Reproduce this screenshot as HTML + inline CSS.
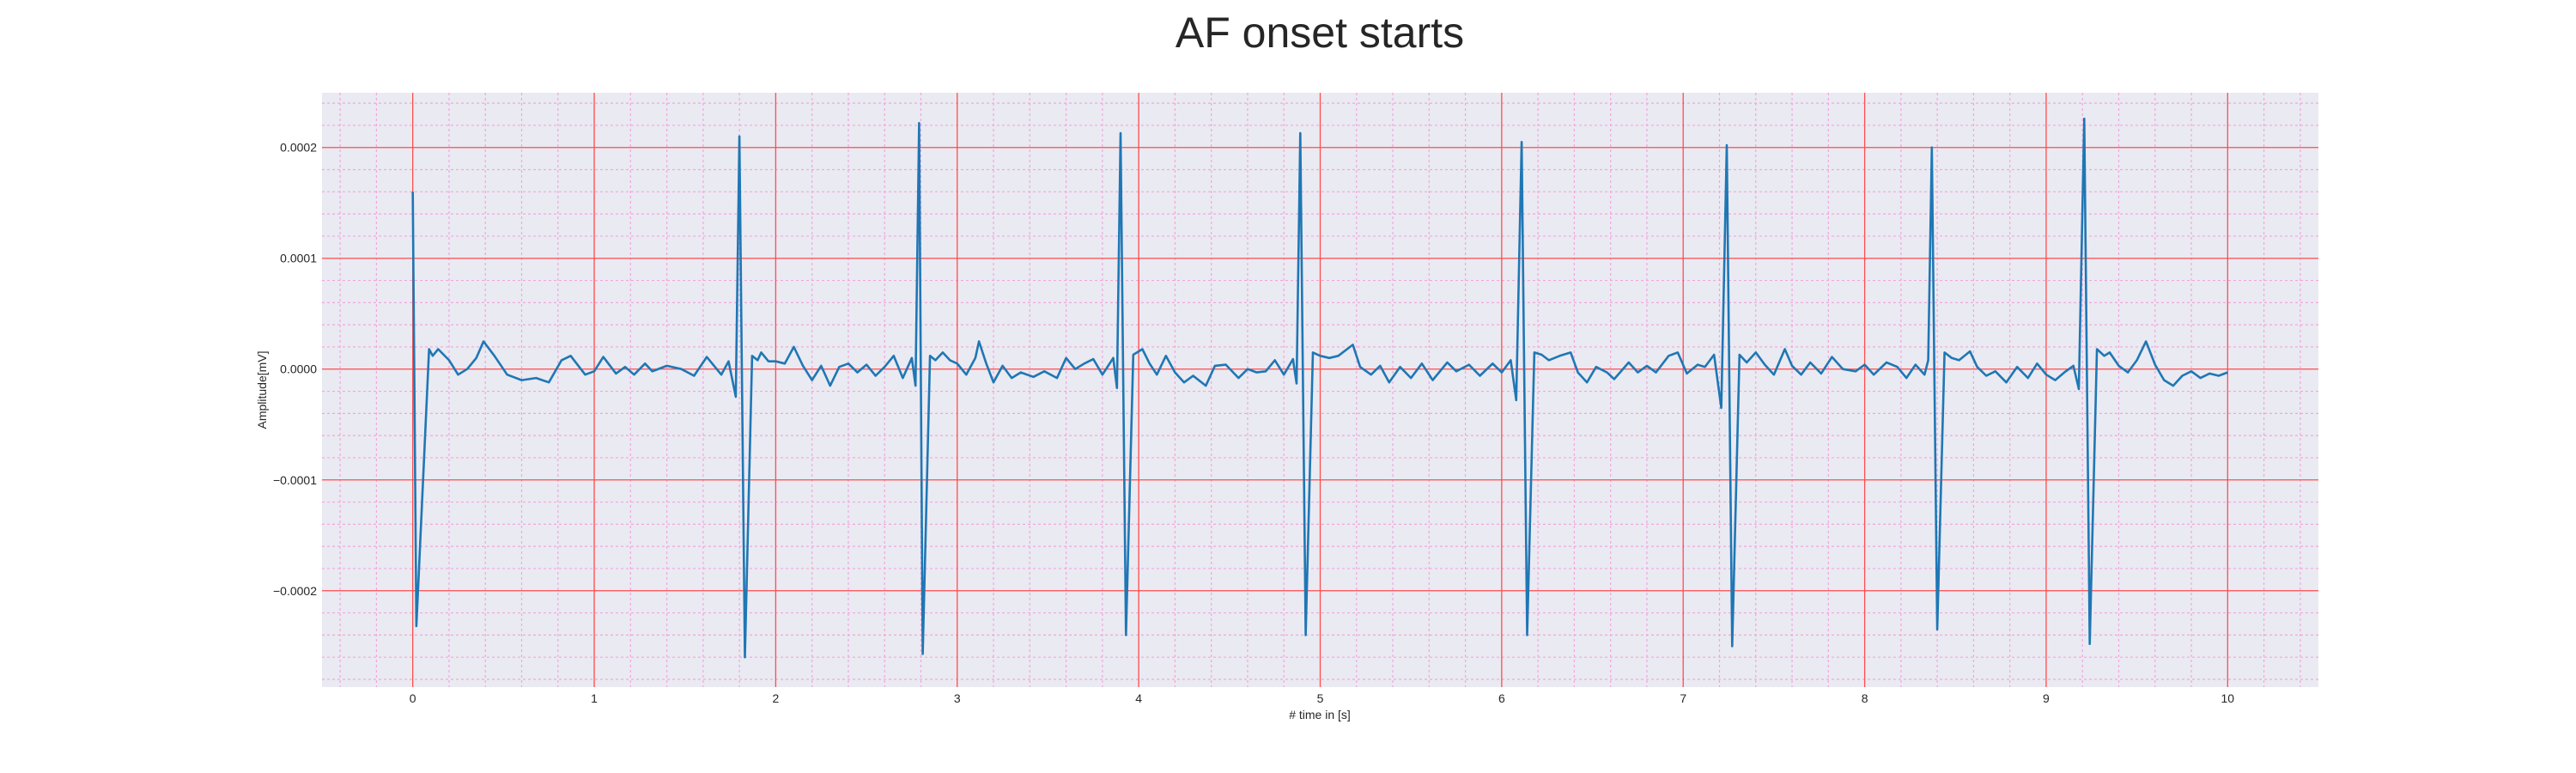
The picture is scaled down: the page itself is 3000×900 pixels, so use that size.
<!DOCTYPE html>
<html><head><meta charset="utf-8"><style>
html,body{margin:0;padding:0;background:#fff;width:3000px;height:900px;overflow:hidden}
text{font-family:"Liberation Sans",sans-serif;fill:#262626}
</style></head><body>
<svg id="chart" width="3000" height="900" xmlns="http://www.w3.org/2000/svg">
<text x="1537" y="55" font-size="50" text-anchor="middle">AF onset starts</text>
<rect x="375" y="108" width="2325" height="692" fill="#eaeaf2"/>
<g id="minor-grid"></g>
<g id="major-grid"></g>
<g id="series"></g>
<g id="x-ticks"></g>
<g id="y-ticks"></g>
<text x="1537" y="837" font-size="14" text-anchor="middle"># time in [s]</text>
<text transform="translate(310,454) rotate(-90)" font-size="14" text-anchor="middle">Amplitude[mV]</text>
</svg>
<script>
const xTicks=[0,1,2,3,4,5,6,7,8,9,10];
const yTicks=[-0.0002,-0.0001,0,0.0001,0.0002];
const yTickLabels=["−0.0002","−0.0001","0.0000","0.0001","0.0002"];
const times=[0,0.02,0.09,0.11,0.14,0.2,0.25,0.3,0.35,0.39,0.45,0.52,0.6,0.68,0.75,0.82,0.87,0.95,1.0,1.05,1.12,1.17,1.22,1.28,1.32,1.4,1.48,1.55,1.62,1.7,1.74,1.78,1.80,1.83,1.87,1.9,1.92,1.96,2.0,2.05,2.1,2.15,2.2,2.25,2.3,2.35,2.4,2.45,2.5,2.55,2.6,2.65,2.7,2.75,2.77,2.79,2.81,2.85,2.88,2.92,2.96,3.0,3.05,3.1,3.12,3.16,3.2,3.25,3.3,3.35,3.42,3.48,3.55,3.6,3.65,3.7,3.75,3.8,3.86,3.88,3.90,3.93,3.97,4.02,4.06,4.1,4.15,4.2,4.25,4.3,4.37,4.42,4.48,4.55,4.6,4.65,4.7,4.75,4.8,4.85,4.87,4.89,4.92,4.96,5.0,5.05,5.1,5.18,5.22,5.28,5.33,5.38,5.44,5.5,5.56,5.62,5.7,5.75,5.82,5.88,5.95,6.0,6.05,6.08,6.11,6.14,6.18,6.22,6.26,6.32,6.38,6.42,6.47,6.52,6.58,6.62,6.7,6.75,6.8,6.85,6.92,6.97,7.02,7.08,7.12,7.17,7.21,7.24,7.27,7.31,7.35,7.4,7.45,7.5,7.56,7.6,7.65,7.7,7.76,7.82,7.88,7.95,8.0,8.05,8.12,8.18,8.23,8.28,8.33,8.35,8.37,8.40,8.44,8.48,8.52,8.58,8.62,8.67,8.72,8.78,8.84,8.9,8.95,9.0,9.05,9.1,9.15,9.18,9.21,9.24,9.28,9.32,9.35,9.4,9.45,9.5,9.55,9.6,9.65,9.7,9.75,9.8,9.85,9.9,9.95,10.0];
const values=[16,-23.2,1.8,1.2,1.8,0.8,-0.5,0,1,2.5,1.2,-0.5,-1.0,-0.8,-1.2,0.8,1.2,-0.5,-0.2,1.1,-0.4,0.2,-0.5,0.5,-0.2,0.3,0,-0.6,1.1,-0.5,0.7,-2.5,21,-26,1.2,0.8,1.5,0.7,0.7,0.5,2.0,0.3,-1,0.3,-1.5,0.2,0.5,-0.3,0.4,-0.6,0.2,1.2,-0.8,1.0,-1.5,22.2,-25.7,1.2,0.8,1.5,0.8,0.5,-0.5,1.0,2.5,0.5,-1.2,0.3,-0.8,-0.3,-0.7,-0.2,-0.8,1.0,0,0.5,0.9,-0.5,1.0,-1.7,21.3,-24,1.3,1.8,0.5,-0.5,1.2,-0.3,-1.2,-0.6,-1.5,0.3,0.4,-0.8,0,-0.3,-0.2,0.8,-0.5,0.9,-1.3,21.3,-24,1.5,1.2,1.0,1.2,2.2,0.2,-0.5,0.3,-1.2,0.2,-0.8,0.5,-1.0,0.6,-0.2,0.4,-0.6,0.5,-0.3,0.8,-2.8,20.5,-24,1.5,1.3,0.8,1.2,1.5,-0.3,-1.2,0.2,-0.3,-0.9,0.6,-0.3,0.3,-0.3,1.2,1.5,-0.4,0.4,0.2,1.3,-3.5,20.2,-25,1.3,0.6,1.5,0.4,-0.5,1.8,0.3,-0.5,0.6,-0.4,1.1,0,-0.2,0.4,-0.5,0.6,0.2,-0.8,0.4,-0.5,0.8,20,-23.5,1.5,1.0,0.8,1.6,0.2,-0.6,-0.2,-1.2,0.2,-0.8,0.5,-0.5,-1.0,-0.3,0.3,-1.8,22.6,-24.8,1.8,1.2,1.5,0.3,-0.3,0.8,2.5,0.4,-1.0,-1.5,-0.6,-0.2,-0.8,-0.4,-0.6,-0.3];
const valueScale=1e-5;

const NS="http://www.w3.org/2000/svg";
const L=375,R=2700,T=108,B=800;
const xMin=-0.5,xMax=10.5,yMin=-0.000287,yMax=0.0002494;
function xs(v){return L+(v-xMin)/(xMax-xMin)*(R-L);}
function ys(v){return B-(v-yMin)/(yMax-yMin)*(B-T);}
function mk(tag,attrs,parent){const e=document.createElementNS(NS,tag);for(const k in attrs)e.setAttribute(k,attrs[k]);parent.appendChild(e);return e;}
const minor=document.getElementById('minor-grid');
for(let i=-2;i<=52;i++){const v=i*0.2;if(v<xMin||v>xMax||i%5===0)continue;
 const l=mk('line',{x1:xs(v),x2:xs(v),y1:T,y2:B,stroke:'#f2a6dc','stroke-width':1.2,'stroke-dasharray':'3,3'},minor);
 
 }
for(let i=-15;i<=13;i++){const v=i*0.00002;if(v<yMin||v>yMax||i%5===0)continue;
 const l=mk('line',{x1:L,x2:R,y1:ys(v),y2:ys(v),stroke:'#f2a6dc','stroke-width':1.2,'stroke-dasharray':'3,3'},minor);
 
 }
const major=document.getElementById('major-grid');
const xt=document.getElementById('x-ticks'),yt=document.getElementById('y-ticks');
xTicks.forEach(v=>{
 const l=mk('line',{x1:xs(v),x2:xs(v),y1:T,y2:B,stroke:'#ff4d4d','stroke-width':1.3},major);
 
 
 const t=mk('text',{x:xs(v),y:B+18,'font-size':14,'text-anchor':'middle'},xt);
 t.textContent=v;
 
 });
yTicks.forEach((v,i)=>{
 const l=mk('line',{x1:L,x2:R,y1:ys(v),y2:ys(v),stroke:'#ff4d4d','stroke-width':1.3},major);
 
 
 const t=mk('text',{x:L-6,y:ys(v)+5,'font-size':14,'text-anchor':'end'},yt);
 t.textContent=yTickLabels[i];
 
 });
const pts=times.map((t,i)=>xs(t).toFixed(1)+','+ys(values[i]*valueScale).toFixed(1)).join(' ');
const pl=mk('polyline',{points:pts,fill:'none',stroke:'#1f77b4','stroke-width':2.6,'stroke-linejoin':'round'},document.getElementById('series'));


</script>
</body></html>
